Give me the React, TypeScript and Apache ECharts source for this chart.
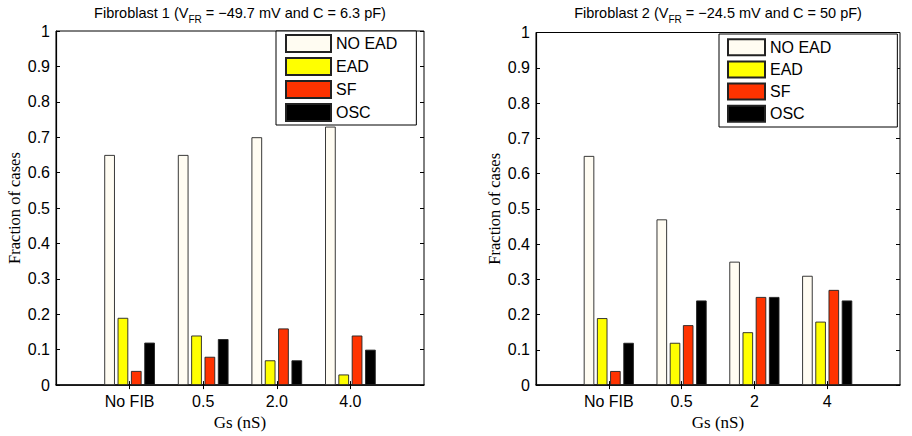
import React, { useEffect, useRef } from "react";
import * as echarts from "echarts";

const seriesNames = ["NO EAD", "EAD", "SF", "OSC"];
const seriesColors = ["#fffcf2", "#ffff00", "#ff3300", "#000000"];

const categoriesLeft = ["No FIB", "0.5", "2.0", "4.0"];
const categoriesRight = ["No FIB", "0.5", "2", "4"];

const leftNoEad = [0.65, 0.65, 0.7, 0.73];
const leftEad = [0.19, 0.14, 0.07, 0.03];
const leftSf = [0.04, 0.08, 0.16, 0.14];
const leftOsc = [0.12, 0.13, 0.07, 0.1];

const rightNoEad = [0.65, 0.47, 0.35, 0.31];
const rightEad = [0.19, 0.12, 0.15, 0.18];
const rightSf = [0.04, 0.17, 0.25, 0.27];
const rightOsc = [0.12, 0.24, 0.25, 0.24];

const titleLeft = ["Fibroblast 1 (V", "FR", " = \u221249.7 mV and C = 6.3 pF)"];
const titleRight = ["Fibroblast 2 (V", "FR", " = \u221224.5 mV and C = 50 pF)"];
const xName = "Gs (nS)";
const yName = "Fraction of cases";

const SANS = "'Liberation Sans', Arial, Helvetica, sans-serif";
const SERIF = "'Liberation Serif', 'Times New Roman', serif";

const pad = (arr: any[], fill: any) => [fill, ...arr, fill];

export default function App() {
  const ref = useRef<HTMLDivElement>(null);

  useEffect(() => {
    document.body.style.margin = "0";
    if (!ref.current) return;
    const chart = echarts.init(ref.current, undefined, { renderer: "svg" });

    const tickInterval = (i: number) => i > 0 && i < 5;

    const mkX = (gridIndex: number, cats: string[], top: boolean, nameGap: number) => ({
      type: "category",
      gridIndex,
      position: top ? "top" : "bottom",
      data: pad(cats, ""),
      boundaryGap: false,
      name: top ? "" : xName,
      nameLocation: "middle",
      nameGap,
      nameTextStyle: { fontFamily: SERIF, fontSize: 17, color: "#000" },
      axisLine: { show: !top, lineStyle: { color: "#000", width: 1.5 } },
      axisTick: { show: true, inside: true, length: 4, interval: tickInterval, lineStyle: { color: "#000" } },
      axisLabel: {
        show: !top,
        interval: 0,
        fontFamily: SANS,
        fontSize: 16,
        color: "#000",
        margin: 8,
      },
      splitLine: { show: false },
    });

    const mkY = (gridIndex: number, right: boolean) => ({
      type: "value",
      gridIndex,
      position: right ? "right" : "left",
      min: 0,
      max: 1,
      interval: 0.1,
      name: right ? "" : yName,
      nameLocation: "middle",
      nameGap: 33,
      nameTextStyle: { fontFamily: SERIF, fontSize: 16.5, color: "#000" },
      axisLine: { show: !right, lineStyle: { color: "#000", width: 1.2 } },
      axisTick: { show: true, inside: true, length: 4, lineStyle: { color: "#000" } },
      axisLabel: {
        show: !right,
        fontFamily: SANS,
        fontSize: 16,
        color: "#000",
        margin: 6,
      },
      splitLine: { show: false },
    });

    const leftData = [leftNoEad, leftEad, leftSf, leftOsc];
    const rightData = [rightNoEad, rightEad, rightSf, rightOsc];

    const mkSeries = (data: number[][], xAxisIndex: number, yAxisIndex: number) =>
      data.map((vals, k) => ({
        type: "bar",
        name: seriesNames[k],
        xAxisIndex,
        yAxisIndex,
        data: pad(vals, "-"),
        barWidth: "14.5%",
        barGap: "25%",
        itemStyle: { color: seriesColors[k], borderColor: "#222", borderWidth: 0.9 },
        emphasis: { disabled: true },
      }));

    const mkTitle = (parts: string[], x: number, y: number) => ({
      type: "text",
      x,
      y,
      style: {
        text: `{a|${parts[0]}}{s|${parts[1]}}{a|${parts[2]}}`,
        align: "center",
        verticalAlign: "middle",
        rich: {
          a: { fontFamily: SANS, fontSize: 14.5, color: "#000", lineHeight: 22, verticalAlign: "middle" },
          s: { fontFamily: SANS, fontSize: 10, color: "#000", lineHeight: 22, verticalAlign: "bottom" },
        },
      },
    });

    const legendBase = {
      orient: "vertical",
      icon: "rect",
      data: seriesNames,
      borderColor: "#000",
      borderWidth: 1,
      backgroundColor: "#fff",
      borderRadius: 0,
      selectedMode: false,
      textStyle: { fontFamily: SANS, fontSize: 16, color: "#000" },
    };

    chart.setOption({
      animation: false,
      backgroundColor: "#fff",
      grid: [
        { left: 56, top: 31, width: 368, height: 362.5, show: true, borderColor: "#000", borderWidth: 1, containLabel: false },
        { left: 536, top: 32.5, width: 364, height: 358, show: true, borderColor: "#000", borderWidth: 1, containLabel: false },
      ],
      xAxis: [
        mkX(0, categoriesLeft, false, 17),
        mkX(0, categoriesLeft, true, 0),
        mkX(1, categoriesRight, false, 23),
        mkX(1, categoriesRight, true, 0),
      ],
      yAxis: [mkY(0, false), mkY(0, true), mkY(1, false), mkY(1, true)],
      legend: [
        {
          ...legendBase,
          left: 276,
          top: 31,
          itemWidth: 45,
          itemHeight: 17,
          itemGap: 4,
          padding: [3, 19, 3, 9],
        },
        {
          ...legendBase,
          left: 719,
          top: 34,
          itemWidth: 37,
          itemHeight: 16,
          itemGap: 4.2,
          padding: [4.2, 66, 4.2, 8],
        },
      ],
      graphic: [mkTitle(titleLeft, 240, 13), mkTitle(titleRight, 718, 13)],
      series: [...mkSeries(leftData, 0, 0), ...mkSeries(rightData, 2, 2)],
    });

    return () => chart.dispose();
  }, []);

  return (
    <div
      ref={ref}
      style={{ position: "absolute", left: 0, top: 0, width: 912, height: 436 }}
    />
  );
}
